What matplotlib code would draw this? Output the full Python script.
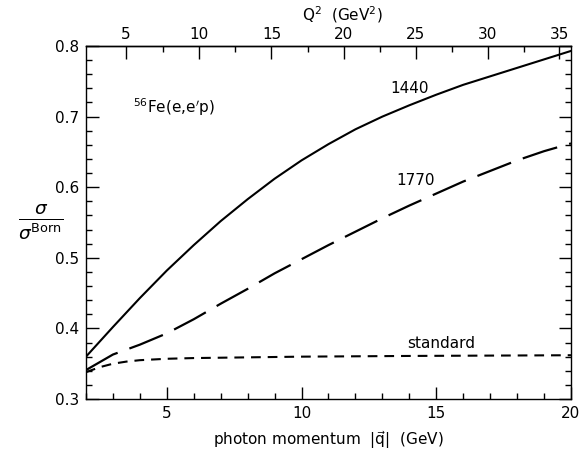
import numpy as np
import matplotlib
matplotlib.use("Agg")
import matplotlib.pyplot as plt
from matplotlib.ticker import MultipleLocator, FixedLocator, FormatStrFormatter

plt.rcParams['font.family'] = 'DejaVu Sans'
plt.rcParams['mathtext.fontset'] = 'dejavusans'
plt.rcParams['lines.scale_dashes'] = False

# photon momentum |q| (GeV)
q = [2, 3, 4, 5, 6, 7, 8, 9, 10, 11, 12, 13, 14, 15, 16, 17, 18, 19, 20]
# sigma / sigma_Born for the three curves
r1440 = [0.360, 0.402, 0.443, 0.482, 0.518, 0.552, 0.583, 0.612, 0.638, 0.661,
         0.682, 0.700, 0.716, 0.731, 0.745, 0.757, 0.769, 0.781, 0.793]
r1770 = [0.341, 0.363, 0.377, 0.393, 0.413, 0.435, 0.456, 0.478, 0.498, 0.518,
         0.537, 0.556, 0.574, 0.591, 0.608, 0.623, 0.638, 0.651, 0.662]
q_std = [2, 2.5, 3, 3.5, 4, 5, 6, 8, 10, 14, 20]
r_std = [0.338, 0.345, 0.350, 0.353, 0.355, 0.357, 0.358, 0.359, 0.360, 0.361, 0.362]

y_major = [0.3, 0.4, 0.5, 0.6, 0.7, 0.8]
Q2_major = [5, 10, 15, 20, 25, 30, 35]
Q2_minor = [7.5, 12.5, 17.5, 22.5, 27.5, 32.5]

a = 1 / (4 * 0.938**2)

def q_to_Q2(x):
    x = np.asarray(x, dtype=float)
    return (-1 + np.sqrt(1 + 4 * a * x**2)) / (2 * a)

def Q2_to_q(y):
    y = np.asarray(y, dtype=float)
    return np.sqrt(np.abs(y + a * y**2))

fig = plt.figure(figsize=(5.87, 4.5), dpi=100)
ax = fig.add_axes([0.1465, 0.1133, 0.8262, 0.7845])

ax.plot(q, r1440, color='black', lw=1.5)
ax.plot(q, r1770, color='black', lw=1.6, dashes=(26, 9))
ax.plot(q_std, r_std, color='black', lw=1.5, dashes=(7, 5))

ax.set_xlim(2, 20)
ax.set_ylim(0.3, 0.8)

ax.xaxis.set_major_locator(FixedLocator([5, 10, 15, 20]))
ax.xaxis.set_minor_locator(MultipleLocator(1))
ax.yaxis.set_major_locator(FixedLocator(y_major))
ax.yaxis.set_minor_locator(MultipleLocator(0.02))
ax.yaxis.set_major_formatter(FormatStrFormatter('%.1f'))

ax.tick_params(which='both', direction='in', top=False, right=True, width=1, labelsize=11)
ax.tick_params(which='major', length=9, pad=5)
ax.tick_params(which='minor', length=4.5)
for s in ax.spines.values():
    s.set_linewidth(1)

ax.set_xlabel(r'photon momentum  $|\vec{\mathrm{q}}|$  (GeV)', fontsize=11, labelpad=6)
ax.set_ylabel(r'$\frac{\sigma}{\sigma^{\mathrm{Born}}}$', fontsize=19, rotation=0,
              labelpad=10, va='center')

sec = ax.secondary_xaxis('top', functions=(q_to_Q2, Q2_to_q))
sec.xaxis.set_major_locator(FixedLocator(Q2_major))
sec.xaxis.set_minor_locator(FixedLocator(Q2_minor))
sec.tick_params(which='both', direction='in', width=1, labelsize=11)
sec.tick_params(which='major', length=9, pad=3)
sec.tick_params(which='minor', length=4.5)
sec.spines['top'].set_linewidth(1)

fig.text(342 / 587, 1 - 15 / 450, r'Q$^2$  (GeV$^2$)', fontsize=11, ha='center', va='center')

ax.text(14.0, 0.740, '1440', fontsize=11, ha='center', va='center')
ax.text(14.25, 0.610, '1770', fontsize=11, ha='center', va='center')
ax.text(15.2, 0.379, 'standard', fontsize=11, ha='center', va='center')
ax.text(3.74, 0.714, r'$^{56}$Fe(e,e$^{\prime}$p)', fontsize=11, ha='left', va='center')

fig.savefig('out.png', dpi=100)
